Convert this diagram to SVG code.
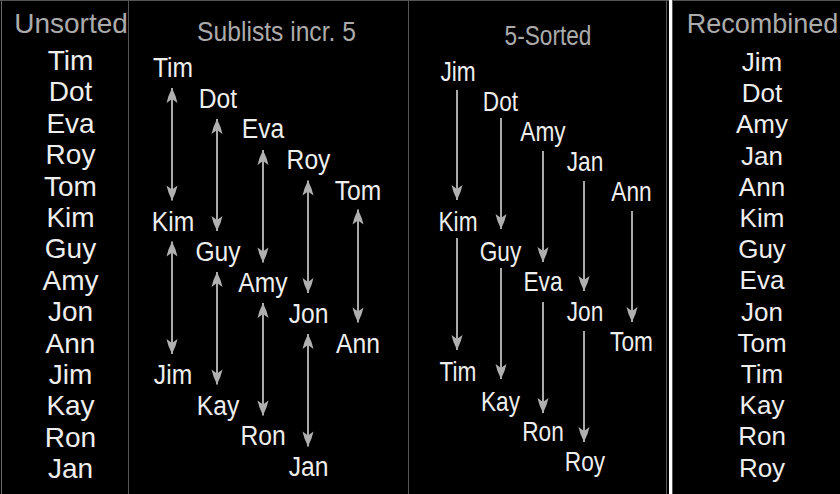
<svg xmlns="http://www.w3.org/2000/svg" width="840" height="494" viewBox="0 0 840 494">
<style>
text{font-family:"Liberation Sans",Arial,sans-serif;text-anchor:middle}
.h{fill:#ababab}
.u{fill:#eeeeee;font-size:28px}
.s{fill:#eeeeee;font-size:28px}
.f{fill:#eeeeee;font-size:27px}
.r{fill:#eeeeee;font-size:26px}
.a{stroke:#aaaaaa;stroke-width:2;fill:none}
.d{marker-start:url(#ah);marker-end:url(#ah)}
.o{marker-end:url(#ah)}
.sep{stroke:#555555;stroke-width:1;fill:none}
</style>
<defs>
<marker id="ah" markerUnits="userSpaceOnUse" markerWidth="18" markerHeight="14" viewBox="-17 -7 18 14" refX="0" refY="0" orient="auto-start-reverse">
<path d="M0,0 L-8,-3.5 L-15,-5.5 L-11,0 L-15,5.5 L-8,3.5 Z" fill="#b0b0b0"/>
</marker>
</defs>
<rect width="840" height="494" fill="#000"/>
<g id="frame">
<line class="sep" x1="0" y1="0.5" x2="840" y2="0.5"/>
<line x1="1.5" y1="0" x2="1.5" y2="494" stroke="#666" stroke-width="1"/>
<line class="sep" x1="128.5" y1="0" x2="128.5" y2="494"/>
<line class="sep" x1="408.5" y1="0" x2="408.5" y2="494"/>
<line class="sep" x1="666.5" y1="0" x2="666.5" y2="494"/>
<rect x="669" y="0" width="3" height="494" fill="#ffffff"/>
<line class="sep" x1="672.5" y1="0" x2="672.5" y2="494"/>
</g>
<g id="headers">
<text class="h" x="71" y="33" font-size="28">Unsorted</text>
<text class="h" transform="translate(276.5,41) scale(0.88,1)" font-size="28">Sublists incr. 5</text>
<text class="h" transform="translate(548,45) scale(0.84,1)" font-size="27">5-Sorted</text>
<text class="h" x="762.5" y="33" font-size="27">Recombined</text>
</g>
<g id="unsorted">
<g id="u0"><text class="u" x="70.5" y="70">Tim</text></g>
<g id="u1"><text class="u" x="70.5" y="101.4">Dot</text></g>
<g id="u2"><text class="u" x="70.5" y="132.8">Eva</text></g>
<g id="u3"><text class="u" x="70.5" y="164.2">Roy</text></g>
<g id="u4"><text class="u" x="70.5" y="195.6">Tom</text></g>
<g id="u5"><text class="u" x="70.5" y="227">Kim</text></g>
<g id="u6"><text class="u" x="70.5" y="258.4">Guy</text></g>
<g id="u7"><text class="u" x="70.5" y="289.8">Amy</text></g>
<g id="u8"><text class="u" x="70.5" y="321.2">Jon</text></g>
<g id="u9"><text class="u" x="70.5" y="352.6">Ann</text></g>
<g id="u10"><text class="u" x="70.5" y="384">Jim</text></g>
<g id="u11"><text class="u" x="70.5" y="415.4">Kay</text></g>
<g id="u12"><text class="u" x="70.5" y="446.8">Ron</text></g>
<g id="u13"><text class="u" x="70.5" y="478.2">Jan</text></g>
</g>
<g id="sublists">
<g id="s0"><text class="s" transform="translate(173,77) scale(0.88,1)">Tim</text></g>
<g id="s1"><text class="s" transform="translate(218,107.7) scale(0.88,1)">Dot</text></g>
<g id="s2"><text class="s" transform="translate(263,138.4) scale(0.88,1)">Eva</text></g>
<g id="s3"><text class="s" transform="translate(308.5,169.1) scale(0.88,1)">Roy</text></g>
<g id="s4"><text class="s" transform="translate(358,199.8) scale(0.88,1)">Tom</text></g>
<g id="s5"><text class="s" transform="translate(173,230.5) scale(0.88,1)">Kim</text></g>
<g id="s6"><text class="s" transform="translate(218,261.2) scale(0.88,1)">Guy</text></g>
<g id="s7"><text class="s" transform="translate(263,291.9) scale(0.88,1)">Amy</text></g>
<g id="s8"><text class="s" transform="translate(308.5,322.6) scale(0.88,1)">Jon</text></g>
<g id="s9"><text class="s" transform="translate(358,353.3) scale(0.88,1)">Ann</text></g>
<g id="s10"><text class="s" transform="translate(173,384) scale(0.88,1)">Jim</text></g>
<g id="s11"><text class="s" transform="translate(218,414.7) scale(0.88,1)">Kay</text></g>
<g id="s12"><text class="s" transform="translate(263,445.4) scale(0.88,1)">Ron</text></g>
<g id="s13"><text class="s" transform="translate(308.5,476.1) scale(0.88,1)">Jan</text></g>
</g>
<g id="sorted5">
<g id="f0"><text class="f" transform="translate(458,81) scale(0.84,1)">Jim</text></g>
<g id="f1"><text class="f" transform="translate(500.5,111) scale(0.84,1)">Dot</text></g>
<g id="f2"><text class="f" transform="translate(543,141) scale(0.84,1)">Amy</text></g>
<g id="f3"><text class="f" transform="translate(585,171) scale(0.84,1)">Jan</text></g>
<g id="f4"><text class="f" transform="translate(631.5,201) scale(0.84,1)">Ann</text></g>
<g id="f5"><text class="f" transform="translate(458,231) scale(0.84,1)">Kim</text></g>
<g id="f6"><text class="f" transform="translate(500.5,261) scale(0.84,1)">Guy</text></g>
<g id="f7"><text class="f" transform="translate(543,291) scale(0.84,1)">Eva</text></g>
<g id="f8"><text class="f" transform="translate(585,321) scale(0.84,1)">Jon</text></g>
<g id="f9"><text class="f" transform="translate(631.5,351) scale(0.84,1)">Tom</text></g>
<g id="f10"><text class="f" transform="translate(458,381) scale(0.84,1)">Tim</text></g>
<g id="f11"><text class="f" transform="translate(500.5,411) scale(0.84,1)">Kay</text></g>
<g id="f12"><text class="f" transform="translate(543,441) scale(0.84,1)">Ron</text></g>
<g id="f13"><text class="f" transform="translate(585,471) scale(0.84,1)">Roy</text></g>
</g>
<g id="recombined">
<g id="r0"><text class="r" x="762" y="71">Jim</text></g>
<g id="r1"><text class="r" x="762" y="102.2">Dot</text></g>
<g id="r2"><text class="r" x="762" y="133.4">Amy</text></g>
<g id="r3"><text class="r" x="762" y="164.6">Jan</text></g>
<g id="r4"><text class="r" x="762" y="195.8">Ann</text></g>
<g id="r5"><text class="r" x="762" y="227">Kim</text></g>
<g id="r6"><text class="r" x="762" y="258.2">Guy</text></g>
<g id="r7"><text class="r" x="762" y="289.4">Eva</text></g>
<g id="r8"><text class="r" x="762" y="320.6">Jon</text></g>
<g id="r9"><text class="r" x="762" y="351.8">Tom</text></g>
<g id="r10"><text class="r" x="762" y="383">Tim</text></g>
<g id="r11"><text class="r" x="762" y="414.2">Kay</text></g>
<g id="r12"><text class="r" x="762" y="445.4">Ron</text></g>
<g id="r13"><text class="r" x="762" y="476.6">Roy</text></g>
</g>
<g id="connectors">
<line class="a d" x1="172" y1="88" x2="172" y2="200.5"/>
<line class="a d" x1="172" y1="241.5" x2="172" y2="354"/>
<line class="a d" x1="217" y1="119" x2="217" y2="231"/>
<line class="a d" x1="217" y1="272" x2="217" y2="384.5"/>
<line class="a d" x1="263" y1="150" x2="263" y2="262.5"/>
<line class="a d" x1="263" y1="303" x2="263" y2="415.5"/>
<line class="a d" x1="308" y1="180.5" x2="308" y2="293"/>
<line class="a d" x1="308" y1="334" x2="308" y2="446.5"/>
<line class="a d" x1="358" y1="209.5" x2="358" y2="322.5"/>
<line class="a o" x1="457" y1="90" x2="457" y2="200"/>
<line class="a o" x1="457" y1="238" x2="457" y2="350"/>
<line class="a o" x1="501" y1="118" x2="501" y2="229"/>
<line class="a o" x1="501" y1="268" x2="501" y2="379"/>
<line class="a o" x1="543" y1="151" x2="543" y2="262"/>
<line class="a o" x1="543" y1="302" x2="543" y2="413"/>
<line class="a o" x1="584" y1="181" x2="584" y2="291"/>
<line class="a o" x1="584" y1="331" x2="584" y2="442"/>
<line class="a o" x1="632" y1="211" x2="632" y2="322"/>
</g>
</svg>
